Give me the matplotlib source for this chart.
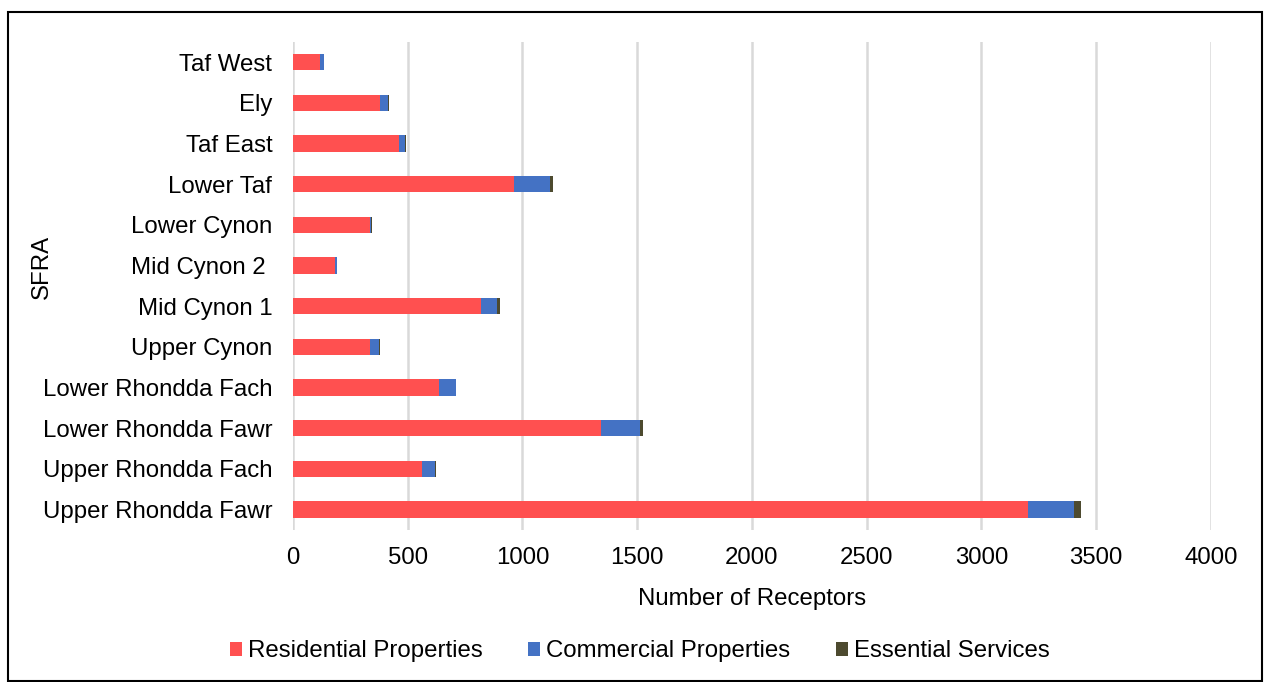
import numpy as np
import matplotlib.pyplot as plt
from matplotlib.patches import Rectangle

plt.rcParams['font.family'] = ['Liberation Sans', 'DejaVu Sans']

# SFRA areas, bottom to top as drawn
areas = ['Upper Rhondda Fawr', 'Upper Rhondda Fach', 'Lower Rhondda Fawr',
         'Lower Rhondda Fach', 'Upper Cynon', 'Mid Cynon 1', 'Mid Cynon 2 ',
         'Lower Cynon', 'Lower Taf', 'Taf East', 'Ely', 'Taf West']
residential = [3204, 562, 1343, 636, 335, 820, 181, 334, 964, 460, 379, 116]
commercial = [201, 57, 168, 73, 41, 70, 10, 5, 154, 27, 33, 20]
essential = [30, 4, 16, 3, 4, 11, 1, 4, 17, 5, 5, 0]

xticks = [0, 500, 1000, 1500, 2000, 2500, 3000, 3500, 4000]

fs = 17.3
fig = plt.figure(figsize=(12.64, 6.82), dpi=100)
ax = fig.add_axes([0.2318, 0.2229, 0.7262, 0.7160])

y = np.arange(len(areas))
res = np.array(residential)
com = np.array(commercial)
ess = np.array(essential)

h = 0.4
ax.barh(y, res, height=h, color='#FF5050', label='Residential Properties', zorder=3)
ax.barh(y, com, left=res, height=h, color='#4472C4', label='Commercial Properties', zorder=3)
ax.barh(y, ess, left=res + com, height=h, color='#4D4A2F', label='Essential Services', zorder=3)

ax.set_xlim(0, 4000)
ax.set_ylim(-0.5, len(areas) - 0.5)
ax.set_xticks(xticks)
ax.set_xticklabels([str(t) for t in xticks], fontsize=fs)
ax.set_yticks(y)
ax.set_yticklabels(areas, fontsize=fs)
ax.tick_params(axis='y', length=0, pad=15)
ax.tick_params(axis='x', length=0, pad=12)
ax.grid(axis='x', color='#D9D9D9', linewidth=1.8, zorder=0)
for s in ax.spines.values():
    s.set_visible(False)

ax.set_xlabel('Number of Receptors', fontsize=fs, labelpad=14)
fig.text(0.033, 1 - 267 / 682, 'SFRA', rotation=90, fontsize=fs, ha='center', va='center')

leg = fig.legend(loc='center', bbox_to_anchor=(0.506, 0.045), ncol=3, frameon=False,
                 fontsize=fs, handlelength=0.5, handleheight=0.5, handletextpad=0.25,
                 columnspacing=1.9)

# outer frame
fig.patches.append(Rectangle((0.0063, 0.0015), 0.9921, 0.9809, transform=fig.transFigure,
                             fill=False, edgecolor='black', linewidth=1.5))

fig.savefig('out.png', dpi=100)
